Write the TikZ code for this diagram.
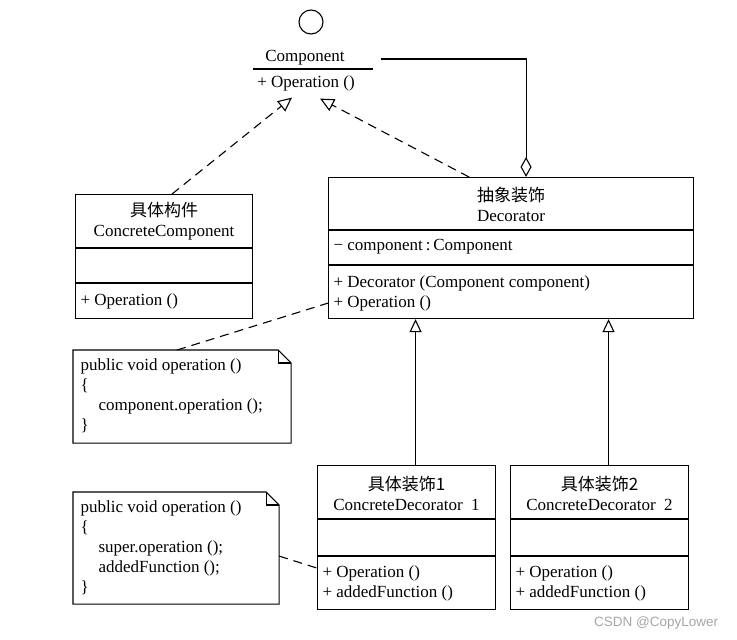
\documentclass[tikz,border=0pt]{standalone}
\usepackage{fontspec}
\setmainfont{Liberation Serif}
\newfontfamily\cjk{Noto Sans CJK SC}
\newfontfamily\marksans{Liberation Sans}
\usepackage{tikz}
\usetikzlibrary{calc,arrows.meta}
\newcommand{\umlfont}{\fontsize{17}{20}\selectfont}
\tikzset{
    umlbox/.style={
        draw,
        anchor=north west,
        inner sep=0pt
    },
    umltitle/.style={
        align=center,
        font=\umlfont
    },
    umlline/.style={
        anchor=west,
        align=left,
        inner sep=0pt,
        font=\umlfont
    },
    notebox/.style={
        anchor=north west,
        inner sep=0pt
    },
    realize/.style={
        dash pattern=on 9pt off 6pt,
        -{Triangle[open,length=14pt,width=13pt]}
    },
    inherit/.style={
        -{Triangle[open,length=13pt,width=12pt]}
    },
    aggregate/.style={
        -{Diamond[open,length=20pt,width=11pt]}
    },
    notelink/.style={
        dash pattern=on 9pt off 6pt
    }
}
\begin{document}
\begin{tikzpicture}[x=1pt,y=-1pt,line width=1.1pt]
    \useasboundingbox (0,0) rectangle (737,640);
    \fill[white] (0,0) rectangle (737,640);

    %% Component interface
    \node (CompIcon) [circle,draw,minimum size=24pt,inner sep=0pt] at (311,22) {};
    \node (CompName) [umltitle] at (305,58) {Component};
    \draw (253,69) -- (373,69);
    \node (CompOp) [umltitle] at (306,83) {+ Operation ()};

    %% ConcreteComponent
    \node (CC) [umlbox,minimum width=177pt,minimum height=124pt] at (75,194) {};
    \draw ($(CC.north west)+(0,54)$) -- ($(CC.north east)+(0,54)$);
    \draw ($(CC.north west)+(0,89)$) -- ($(CC.north east)+(0,89)$);
    \node [umltitle] at ($(CC.north)+(0,27)$) {{\cjk 具体构件}\\ConcreteComponent};
    \node [umlline] at ($(CC.south west)+(5,-18)$) {+ Operation ()};

    %% Decorator
    \node (D) [umlbox,minimum width=365pt,minimum height=141pt] at (328,177) {};
    \draw ($(D.north west)+(0,53)$) -- ($(D.north east)+(0,53)$);
    \draw ($(D.north west)+(0,88)$) -- ($(D.north east)+(0,88)$);
    \node [umltitle] at ($(D.north)+(0,27.5)$) {{\cjk 抽象装饰}\\Decorator};
    \node [umlline] at ($(D.north west)+(5,70)$) {− component\,:\,Component};
    \node [umlline] at ($(D.south west)+(5,-26)$) {+ Decorator (Component component)\\+ Operation ()};

    %% ConcreteDecorator 1
    \node (CD1) [umlbox,minimum width=178pt,minimum height=144pt] at (317,465) {};
    \draw ($(CD1.north west)+(0,54)$) -- ($(CD1.north east)+(0,54)$);
    \draw ($(CD1.north west)+(0,91)$) -- ($(CD1.north east)+(0,91)$);
    \node [umltitle] at ($(CD1.north)+(0,28.5)$) {{\cjk 具体装饰1}\\ConcreteDecorator\ \ 1};
    \node [umlline] at ($(CD1.south west)+(5,-27)$) {+ Operation ()\\+ addedFunction ()};

    %% ConcreteDecorator 2
    \node (CD2) [umlbox,minimum width=178pt,minimum height=144pt] at (510,465) {};
    \draw ($(CD2.north west)+(0,54)$) -- ($(CD2.north east)+(0,54)$);
    \draw ($(CD2.north west)+(0,91)$) -- ($(CD2.north east)+(0,91)$);
    \node [umltitle] at ($(CD2.north)+(0,28.5)$) {{\cjk 具体装饰2}\\ConcreteDecorator\ \ 2};
    \node [umlline] at ($(CD2.south west)+(5,-27)$) {+ Operation ()\\+ addedFunction ()};

    %% Note: Decorator.operation
    \node (N1) [notebox,minimum width=217pt,minimum height=92pt] at (73,350) {};
    \draw (N1.north west) -- ($(N1.north east)+(-13,0)$) -- ($(N1.north east)+(0,13)$)
        -- (N1.south east) -- (N1.south west) -- cycle;
    \draw ($(N1.north east)+(-13,0)$) -- ($(N1.north east)+(-13,13)$) -- ($(N1.north east)+(0,13)$);
    \node [umlline] at ($(N1.west)+(7,-1)$) {public void operation ()\\\{\\\hspace{18pt}component.operation ();\\\}};

    %% Note: ConcreteDecorator.operation
    \node (N2) [notebox,minimum width=205pt,minimum height=111pt] at (73,492) {};
    \draw (N2.north west) -- ($(N2.north east)+(-13,0)$) -- ($(N2.north east)+(0,13)$)
        -- (N2.south east) -- (N2.south west) -- cycle;
    \draw ($(N2.north east)+(-13,0)$) -- ($(N2.north east)+(-13,13)$) -- ($(N2.north east)+(0,13)$);
    \node [umlline] at ($(N2.west)+(7,0)$) {public void operation ()\\\{\\\hspace{18pt}super.operation ();\\\hspace{18pt}addedFunction ();\\\}};

    %% connectors
    \draw[realize] ($(CC.north)+(8,0)$) -- ($(CompOp.south)+(-14,3)$);
    \draw[realize] ($(D.north)+(-42,0)$) -- ($(CompOp.south)+(14,4)$);
    \draw[aggregate] ($(CompName.east)+(32,1)$) -| ($(D.north)+(15,0)$);
    \coordinate (G1) at ($(CD1.north)+(9,0)$);
    \coordinate (G2) at ($(CD2.north)+(9,0)$);
    \draw[inherit] (G1) -- (G1 |- D.south);
    \draw[inherit] (G2) -- (G2 |- D.south);
    \draw[notelink] ($(N1.north)+(-5,0)$) -- ($(D.south west)+(0,-16)$);
    \draw[notelink] ($(N2.east)+(0,8)$) -- ($(CD1.south west)+(0,-42)$);

    %% watermark
    \node (Mark) [anchor=east,text=gray!70,font=\fontsize{13.5}{15}\selectfont\marksans] at (722,623) {CSDN @CopyLower};

\end{tikzpicture}
\end{document}
